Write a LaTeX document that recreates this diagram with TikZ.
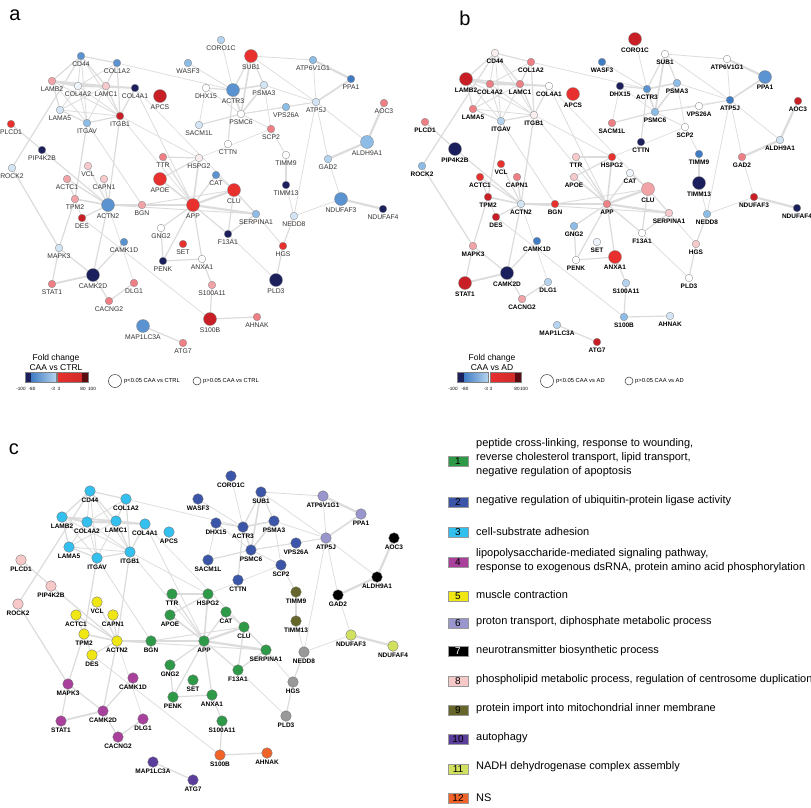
\documentclass[tikz,border=0pt]{standalone}
\usepackage{fontspec}
\setmainfont{Liberation Sans}
\usetikzlibrary{calc}
\pgfdeclarelayer{back}
\pgfdeclarelayer{bg}
\pgfsetlayers{back,bg,main}
\definecolor{nv}{HTML}{1B1F5C}
\definecolor{b1}{HTML}{3F7CC4}
\definecolor{b2}{HTML}{5A93D0}
\definecolor{b3}{HTML}{8DBCE6}
\definecolor{b4}{HTML}{B5D3EF}
\definecolor{b5}{HTML}{D3E5F5}
\definecolor{b6}{HTML}{EEF5FC}
\definecolor{w}{HTML}{FFFFFF}
\definecolor{p5}{HTML}{FBEEEF}
\definecolor{p4}{HTML}{F6C9CC}
\definecolor{p3}{HTML}{F2A3A7}
\definecolor{p2}{HTML}{EE8085}
\definecolor{r1}{HTML}{E8302E}
\definecolor{r0}{HTML}{C81E25}
\definecolor{mr}{HTML}{5A0D10}
\definecolor{c1}{HTML}{2E9A48}
\definecolor{c2}{HTML}{3B55A8}
\definecolor{c3}{HTML}{33C0EE}
\definecolor{c4}{HTML}{A8409C}
\definecolor{c5}{HTML}{F0E614}
\definecolor{c6}{HTML}{9896CC}
\definecolor{c7}{HTML}{000000}
\definecolor{c8}{HTML}{F7C8C8}
\definecolor{c9}{HTML}{66662A}
\definecolor{c10}{HTML}{5B3D9C}
\definecolor{c11}{HTML}{D2E060}
\definecolor{c12}{HTML}{F0642A}
\definecolor{cg}{HTML}{999999}
\definecolor{edgec}{HTML}{DCDCDC}
\def\edgelist{%
CD44/COL1A2/1.2,CD44/LAMB2/1.2,CD44/COL4A2/0.8,CD44/LAMC1/1.2,CD44/ITGB1/0.8,CD44/ITGAV/0.8,CD44/ROCK2/1.2,%
COL1A2/LAMC1/1.2,COL1A2/COL4A2/0.8,COL1A2/ITGB1/1.2,COL1A2/ACTR3/0.7,%
LAMB2/COL4A2/2.2,LAMB2/LAMC1/1.6,LAMB2/LAMA5/1.2,LAMB2/ITGAV/0.8,LAMB2/ITGB1/0.8,%
COL4A2/LAMC1/2.2,COL4A2/COL4A1/1.6,COL4A2/LAMA5/0.8,COL4A2/ITGAV/0.8,COL4A2/ITGB1/0.8,%
LAMC1/COL4A1/1.6,LAMC1/ITGB1/1.2,LAMC1/LAMA5/0.8,LAMC1/ITGAV/0.8,LAMA5/ITGB1/0.8,LAMA5/ITGAV/1.2,COL4A1/ITGB1/1.2,ITGAV/ITGB1/1.2,%
COL4A1/APP/0.8,COL4A1/CLU/0.6,ITGB1/ACTN2/1.2,ITGB1/HSPG2/0.7,ITGB1/APP/0.7,ITGAV/TPM2/1.2,ITGAV/BGN/0.8,%
PLCD1/PIP4K2B/1.2,PIP4K2B/ACTN2/1.2,ROCK2/MAPK3/1.2,%
VCL/ACTN2/1.2,ACTC1/ACTN2/1.2,CAPN1/ACTN2/1.2,TPM2/ACTN2/1.6,DES/ACTN2/1.2,ACTC1/TPM2/1.2,TPM2/DES/0.8,TPM2/MAPK3/1.2,DES/S100B/0.7,ACTN2/BGN/2.2,ACTN2/APP/2.2,ACTN2/CAMK2D/1.2,ACTN2/DLG1/0.6,ACTN2/SERPINA1/0.9,BGN/CLU/0.9,%
MAPK3/STAT1/1.2,MAPK3/CAMK2D/1.2,STAT1/CAMK2D/1.8,CAMK2D/CAMK1D/1.2,CAMK2D/CACNG2/1.2,CACNG2/DLG1/1.2,MAP1LC3A/ATG7/1.2,%
BGN/APP/2.2,APP/CLU/2.2,APP/SERPINA1/2.2,APP/F13A1/1.2,APP/GNG2/1.2,APP/PENK/1.2,APP/ANXA1/1.2,APP/HSPG2/1.6,APP/APOE/1.6,APP/TTR/1.2,APP/CAT/1.2,TTR/HSPG2/1.2,HSPG2/APOE/1.2,GNG2/PENK/1.2,PENK/ANXA1/1.2,ANXA1/S100A11/1.2,S100A11/S100B/1.2,S100B/AHNAK/1.2,CLU/F13A1/1.2,CLU/SERPINA1/1.2,CLU/CAT/1.2,F13A1/SERPINA1/1.2,F13A1/PLD3/0.7,SERPINA1/HGS/0.7,HGS/PLD3/1.2,NEDD8/HGS/1.2,NEDD8/TIMM13/0.7,NEDD8/NDUFAF3/0.7,NEDD8/ATP5J/0.7,TIMM9/TIMM13/2.2,TIMM9/SCP2/0.8,SCP2/HSPG2/0.6,%
ATP5J/PPA1/1.6,ATP6V1G1/PPA1/2.2,ATP6V1G1/ATP5J/0.7,ATP6V1G1/SUB1/0.8,ATP5J/ALDH9A1/0.7,ATP5J/GAD2/0.7,AOC3/ALDH9A1/2.2,ALDH9A1/GAD2/2.2,GAD2/NDUFAF3/0.7,NDUFAF3/NDUFAF4/2.2,%
CORO1C/ACTR3/0.7,WASF3/ACTR3/0.8,SUB1/ACTR3/1.2,SUB1/PSMC6/1.6,SUB1/PSMA3/1.2,SUB1/ATP5J/0.7,DHX15/ACTR3/1.2,DHX15/PSMC6/0.7,DHX15/SACM1L/0.7,ACTR3/PSMA3/1.6,ACTR3/PSMC6/1.6,ACTR3/CTTN/1.2,PSMA3/PSMC6/1.6,PSMA3/SCP2/0.7,PSMC6/VPS26A/0.8,PSMC6/SACM1L/1.2,PSMC6/SCP2/0.8,PSMC6/ATP5J/0.7,VPS26A/ATP5J/0.7,PSMA3/ATP5J/0.7}
\begin{document}
\begin{tikzpicture}[x=1pt,y=-1pt,
  gn/.style={circle, draw=black!45, line width=0.35pt, inner sep=0pt},
  gnc/.style={circle, draw=black!55, line width=0.35pt, inner sep=0pt, minimum size=10.6pt},
  lba/.style={font=\fontsize{6.8}{7}\selectfont, text=black!80, inner sep=0pt, anchor=north},
  lbb/.style={font=\fontsize{6.5}{7}\selectfont\bfseries, inner sep=0pt, anchor=north},
  edge/.style={draw=edgec, line cap=round},
  panel/.style={font=\fontsize{20}{22}\selectfont, inner sep=0pt},
  leg/.style={font=\fontsize{8.5}{9}\selectfont, inner sep=0pt},
  tick/.style={font=\fontsize{4.6}{5}\selectfont, inner sep=0pt},
  ptxt/.style={font=\fontsize{5.8}{6}\selectfont, inner sep=0pt, anchor=west},
  keybox/.style={draw=black!40, line width=0.4pt, minimum width=20pt, minimum height=10pt, inner sep=0pt, font=\fontsize{10}{10}\selectfont},
  keytxt/.style={font=\fontsize{11}{14}\selectfont, inner sep=0pt, anchor=west, align=left}]
\useasboundingbox (0,0) rectangle (811,807);
\begin{pgfonlayer}{back}
\fill[white] (0,0) rectangle (811,807);
\end{pgfonlayer}
% ---------------- panel a ----------------
\node[panel] (la) at (15,15) {a};
\foreach \n/\x/\y/\c/\d in {CD44/81/56/b2/7.6,COL1A2/117/63/b2/7.6,WASF3/188/63/b3/7.6,CORO1C/221/40/b4/7.6,SUB1/251/56/r1/13,ATP6V1G1/313/60/b3/7.6,PPA1/351/79/b1/7.6,LAMB2/52/81/p3/7.6,COL4A2/78/86/b6/7.6,LAMC1/106/86/p4/7.6,COL4A1/135/88/nv/7.6,APCS/160/96/r0/13,DHX15/206/88/w/7.6,ACTR3/233/90/b2/13,PSMA3/264/85/b5/7.6,ATP5J/316/102/b5/7.6,AOC3/384/103/p2/7.6,LAMA5/60/110/b5/7.6,ITGAV/87/123/b3/7.6,ITGB1/120/116/r0/7.6,SACM1L/199/125/b5/7.6,PSMC6/241/114/w/7.6,VPS26A/286/107/b3/7.6,SCP2/271/129/p2/7.6,PLCD1/11/124/r1/7.6,PIP4K2B/42/150/nv/7.6,ROCK2/12/168/b5/7.6,CTTN/228/144/w/7.6,ALDH9A1/367/142/b3/13,TTR/163/157/p2/7.6,HSPG2/199/158/p5/7.6,TIMM9/286/155/w/7.6,GAD2/328/159/b4/7.6,VCL/88/166/p4/7.6,APOE/160/179/r1/13,CAT/216/175/b2/7.6,ACTC1/67/179/p3/7.6,CAPN1/104/179/p4/7.6,TIMM13/286/185/nv/7.6,CLU/234/190/r1/13,TPM2/75/199/p3/7.6,ACTN2/108/205/b2/13,BGN/142/205/p3/7.6,APP/193/205/r1/13,NDUFAF3/341/199/b2/13,NDUFAF4/383/209/nv/7.6,DES/82/218/r0/7.6,SERPINA1/256/214/b3/7.6,NEDD8/294/216/b5/7.6,GNG2/161/228/w/7.6,F13A1/228/234/nv/7.6,CAMK1D/124/242/b2/7.6,SET/183/244/r1/7.6,HGS/283/246/r1/7.6,MAPK3/59/248/b5/7.6,PENK/163/261/nv/7.6,ANXA1/202/259/w/7.6,CAMK2D/93/275/nv/13,STAT1/52/284/p2/7.6,DLG1/134/283/p2/7.6,PLD3/276/280/nv/13,S100A11/212/285/p3/7.6,CACNG2/109/301/p2/7.6,MAP1LC3A/143/326/b2/13,ATG7/183/343/p2/7.6,S100B/210/319/r0/13,AHNAK/257/317/p2/7.6}{
  \node[gn, fill=\c, minimum size=\d pt] (a\n) at (\x,\y) {};
  \node[lba] (a\n-l) at ([yshift=-1.6pt]a\n.south) {\n};
}
% ---------------- panel b ----------------
\node[panel] (lb) at (465,18) {b};
\foreach \n/\x/\y/\c/\d in {CD44/495/53/p5/7.6,COL1A2/531/62/p2/7.6,WASF3/602/62/b1/7.6,CORO1C/635/39/r0/13,SUB1/665/54/w/7.6,ATP6V1G1/727/59/w/7.6,PPA1/765/77/b2/13,LAMB2/466/79/r0/13,COL4A2/490/84/p2/7.6,LAMC1/520/84/p2/7.6,COL4A1/549/86/w/7.6,APCS/573/94/r1/13,DHX15/620/86/nv/7.6,ACTR3/647/89/b2/7.6,PSMA3/677/83/b3/7.6,ATP5J/730/100/b1/7.6,AOC3/798/101/r0/7.6,LAMA5/473/109/p2/7.6,ITGAV/501/121/b4/7.6,ITGB1/534/115/p5/7.6,SACM1L/612/123/p2/7.6,PSMC6/655/112/b3/7.6,VPS26A/699/106/w/7.6,SCP2/685/127/w/7.6,PLCD1/425/122/p2/7.6,PIP4K2B/455/149/nv/13,ROCK2/422/166/b3/7.6,CTTN/641/142/nv/7.6,ALDH9A1/780/140/b5/7.6,TTR/576/157/p4/7.6,HSPG2/612/157/r1/7.6,TIMM9/699/154/b1/7.6,GAD2/742/157/p2/7.6,VCL/501/164/r1/7.6,APOE/574/177/p4/7.6,CAT/630/173/b6/7.6,ACTC1/480/177/r1/7.6,CAPN1/517/177/p2/7.6,TIMM13/699/183/nv/13,CLU/648/189/p3/13,TPM2/488/197/r0/7.6,ACTN2/521/204/b5/7.6,BGN/555/204/r1/7.6,APP/607/204/p2/7.6,NDUFAF3/754/197/r0/7.6,NDUFAF4/797/208/nv/7.6,DES/496/217/r0/7.6,SERPINA1/669/213/p4/7.6,NEDD8/707/214/b3/7.6,GNG2/574/226/b3/7.6,F13A1/642/233/w/7.6,CAMK1D/537/241/b1/7.6,SET/597/242/b6/7.6,HGS/696/244/p4/7.6,MAPK3/473/246/p3/7.6,PENK/576/260/w/7.6,ANXA1/615/257/r1/13,CAMK2D/507/273/nv/13,STAT1/465/283/r0/13,DLG1/548/282/b4/7.6,PLD3/689/278/w/7.6,S100A11/626/283/b4/7.6,CACNG2/522/299/p3/7.6,MAP1LC3A/557/325/b4/7.6,ATG7/597/342/r0/7.6,S100B/624/317/b3/7.6,AHNAK/670/316/b5/7.6}{
  \node[gn, fill=\c, minimum size=\d pt] (b\n) at (\x,\y) {};
  \node[lbb] (b\n-l) at ([yshift=-1.6pt]b\n.south) {\n};
}
% ---------------- panel c ----------------
\node[panel] (lc) at (14,449) {c};
\foreach \n/\x/\y/\c in {CD44/90/491/c3,COL1A2/126/499/c3,WASF3/198/499/c2,CORO1C/231/476/c2,SUB1/261/492/c2,ATP6V1G1/323/496/c6,PPA1/361/514/c6,LAMB2/62/517/c3,COL4A2/87/522/c3,LAMC1/116/521/c3,COL4A1/145/524/c3,APCS/169/532/c3,DHX15/216/523/c2,ACTR3/243/527/c2,PSMA3/274/521/c2,ATP5J/326/538/c6,AOC3/394/538/c7,LAMA5/69/547/c3,ITGAV/97/558/c3,ITGB1/130/552/c3,SACM1L/208/560/c2,PSMC6/251/550/c2,VPS26A/296/543/c2,SCP2/281/565/c2,PLCD1/21/560/c8,PIP4K2B/51/586/c8,ROCK2/18/604/c8,CTTN/238/580/c2,ALDH9A1/377/577/c7,TTR/172/594/c1,HSPG2/208/594/c1,TIMM9/296/592/c9,GAD2/338/595/c7,VCL/97/602/c5,APOE/170/615/c1,CAT/226/612/c1,ACTC1/76/615/c5,CAPN1/113/615/c5,TIMM13/296/621/c9,CLU/244/627/c1,TPM2/84/634/c5,ACTN2/117/641/c5,BGN/151/641/c1,APP/204/641/c1,NDUFAF3/351/635/c11,NDUFAF4/393/646/c11,DES/92/655/c5,SERPINA1/266/650/c1,NEDD8/304/652/cg,GNG2/170/665/c1,F13A1/238/670/c1,CAMK1D/133/678/c4,SET/193/680/c1,HGS/293/682/cg,MAPK3/68/684/c4,PENK/173/697/c1,ANXA1/212/695/c1,CAMK2D/103/711/c4,STAT1/61/721/c4,DLG1/143/719/c4,PLD3/286/716/cg,S100A11/222/721/c1,CACNG2/118/737/c4,MAP1LC3A/153/762/c10,ATG7/193/780/c10,S100B/220/755/c12,AHNAK/267/753/c12}{
  \node[gnc, fill=\c] (c\n) at (\x,\y) {};
  \node[lbb] (c\n-l) at ([yshift=-1.6pt]c\n.south) {\n};
}
% ---------------- edges ----------------
\begin{pgfonlayer}{bg}
\foreach \p in {a,b,c}{
  \foreach \u/\v/\ew in \edgelist{
    \draw[edge, line width=\ew pt] (\p\u) -- (\p\v);
  }
}
\end{pgfonlayer}
% ---------------- legend a ----------------
\node[leg] (fa1) at (56,358) {Fold change};
\node[leg] (fa2) at (56,368) {CAA vs CTRL};
\fill[nv] (25,372) rectangle (31,382);
\shade[left color=b1, right color=b4] (31,372) rectangle (56,382);
\shade[left color=r1, right color=r1!90!black] (57.5,372) rectangle (82,382);
\fill[mr] (82,372) rectangle (88,382);
\draw[black!50, line width=0.3pt] (25,372) rectangle (56,382) (57.5,372) rectangle (88,382);
\foreach \t/\x in {-100/21,-80/32,-3/53,3/59,80/83,100/92}{\node[tick] (ta\x) at (\x,389) {\t};}
\node[circle, draw=black!80, line width=0.5pt, minimum size=13pt, inner sep=0pt] (ca1) at (115,381) {};
\node[ptxt] (ta1) at (124,381) {p<0.05 CAA vs CTRL};
\node[circle, draw=black!80, line width=0.5pt, minimum size=8pt, inner sep=0pt] (ca2) at (197,381) {};
\node[ptxt] (ta2) at (203,381) {p>0.05 CAA vs CTRL};
% ---------------- legend b ----------------
\node[leg] (fb1) at (492,358) {Fold change};
\node[leg] (fb2) at (492,368) {CAA vs AD};
\fill[nv] (457,372) rectangle (464,382);
\shade[left color=b1, right color=b4] (464,372) rectangle (488,382);
\shade[left color=r1, right color=r1!90!black] (490,372) rectangle (515,382);
\fill[mr] (515,372) rectangle (521,382);
\draw[black!50, line width=0.3pt] (457,372) rectangle (488,382) (490,372) rectangle (521,382);
\foreach \t/\x in {-100/453,-80/465,-3/486,3/491,80/517,100/524}{\node[tick] (tb\x) at (\x,389) {\t};}
\node[circle, draw=black!80, line width=0.5pt, minimum size=13pt, inner sep=0pt] (cb1) at (547,381) {};
\node[ptxt] (tb1) at (556,381) {p<0.05 CAA vs AD};
\node[circle, draw=black!80, line width=0.5pt, minimum size=8pt, inner sep=0pt] (cb2) at (629,381) {};
\node[ptxt] (tb2) at (635,381) {p>0.05 CAA vs AD};
% ---------------- legend c ----------------
\node[keybox, fill=c1] (k1) at (458,461.5) {1};
\node[keytxt] (t1) at (476,458) {peptide cross-linking, response to wounding,\\reverse cholesterol transport, lipid transport,\\negative regulation of apoptosis};
\node[keybox, fill=c2] (k2) at (458,502) {2};
\node[keytxt] (t2) at (476,501) {negative regulation of ubiquitin-protein ligase activity};
\node[keybox, fill=c3] (k3) at (458,532) {3};
\node[keytxt] (t3) at (476,532) {cell-substrate adhesion};
\node[keybox, fill=c4] (k4) at (458,562) {4};
\node[keytxt] (t4) at (476,561) {lipopolysaccharide-mediated signaling pathway,\\response to exogenous dsRNA, protein amino acid phosphorylation};
\node[keybox, fill=c5] (k5) at (458,596) {5};
\node[keytxt] (t5) at (476,595) {muscle contraction};
\node[keybox, fill=c6] (k6) at (458,623) {6};
\node[keytxt] (t6) at (476,622) {proton transport, diphosphate metabolic process};
\node[keybox, fill=c7, text=white] (k7) at (458,651) {7};
\node[keytxt] (t7) at (476,651) {neurotransmitter biosynthetic process};
\node[keybox, fill=c8] (k8) at (458,681) {8};
\node[keytxt] (t8) at (476,680) {phospholipid metabolic process, regulation of centrosome duplication};
\node[keybox, fill=c9] (k9) at (458,710) {9};
\node[keytxt] (t9) at (476,709) {protein import into mitochondrial inner membrane};
\node[keybox, fill=c10] (k10) at (458,739) {10};
\node[keytxt] (t10) at (476,738) {autophagy};
\node[keybox, fill=c11] (k11) at (458,769) {11};
\node[keytxt] (t11) at (476,767) {NADH dehydrogenase complex assembly};
\node[keybox, fill=c12] (k12) at (458,798) {12};
\node[keytxt] (t12) at (476,798) {NS};
\end{tikzpicture}
\end{document}
